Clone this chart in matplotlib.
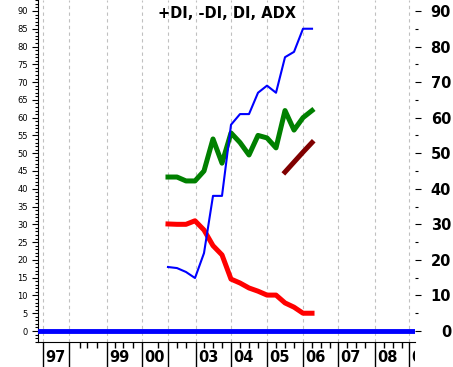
import numpy as np
import matplotlib
matplotlib.use("Agg")
import matplotlib.pyplot as plt
from matplotlib.transforms import Bbox, TransformedBbox, offset_copy

# quarterly points (index)
qtr = [0, 1, 2, 3, 4, 5, 6, 7, 8, 9, 10, 11, 12, 13, 14, 15, 16]
plus_di = [18.0, 17.7, 16.6, 14.9, 21.9, 38.0, 38.0, 58.0, 61.0, 61.0, 67.0, 69.0, 67.0, 77.0, 78.5, 85.0, 85.0]
minus_di = [30.1, 30.0, 30.0, 31.0, 28.4, 24.0, 21.4, 14.6, 13.5, 12.1, 11.2, 10.1, 10.1, 7.9, 6.7, 5.0, 5.0]
di = [43.3, 43.3, 42.2, 42.2, 45.0, 54.0, 47.2, 55.7, 53.0, 49.5, 55.0, 54.3, 51.5, 62.0, 56.5, 60.0, 62.0]
adx_x = [13, 14, 15, 16]
adx = [44.7, 47.5, 50.3, 53.0]

# year ticks (in quarter units) and their labels
year_pos = [-13.9, -11.0, -6.8, -2.9, 0.0, 3.1, 7.0, 11.0, 15.0, 18.9, 23.0, 26.8]
year_lbl = ['97', '', '99', '00', '', '03', '04', '05', '06', '07', '08', '09']
minor_pos = [-9.8, -9.0, -7.9, -5.9, -5.0, -3.9, -1.1, 1, 2, 4, 5, 6, 8, 9, 10,
             12, 13, 14, 16, 17, 18, 19.9, 20.9, 21.9, 24, 25, 26]

W, H = 453, 367
fig = plt.figure(figsize=(W / 100, H / 100), dpi=100)
ax = fig.add_axes([38 / W, 25 / H, (415 - 38) / W, 342 / H])
ax.set_xlim(-14.44, 27.44)
ax.set_ylim(-3.09, 93.08)

ax.spines['top'].set_visible(False)
ax.spines['right'].set_visible(False)

# x axis: tall year ticks, short quarter ticks, labels right of the tick
ax.set_xticks(year_pos)
ax.set_xticks(minor_pos, minor=True)
ax.set_xticklabels([])
ax.tick_params(axis='x', which='major', length=18, width=1, color='black')
ax.tick_params(axis='x', which='minor', length=4, width=1, color='black')
ax.grid(axis='x', which='major', color='#c0c0c0', linestyle=(0, (3, 3)), linewidth=0.8)

# last label is cut off at the plot's right edge
clip = TransformedBbox(Bbox([[0, 0], [415 / W, 1]]), fig.transFigure)
lbl_tr = offset_copy(ax.get_xaxis_transform(), fig=fig, x=2, y=-15, units='dots')
for p, s in zip(year_pos, year_lbl):
    if s:
        t = ax.text(p, 0, s, transform=lbl_tr, ha='left', va='center',
                    fontsize=10.5, fontweight='bold', clip_on=True)
        t.set_clip_box(clip)

# left y axis
ax.set_yticks(np.arange(0, 91, 5))
ax.set_yticks(np.arange(-3, 94, 1), minor=True)
ax.tick_params(axis='y', which='major', length=4.3, width=0.8, pad=3, labelsize=6)
ax.tick_params(axis='y', which='minor', length=2, width=0.8)

# right y axis
ax2 = ax.twinx()
ax2.set_ylim(ax.get_ylim())
for sp in ax2.spines.values():
    sp.set_visible(False)
ax2.set_yticks(np.arange(0, 91, 10))
ax2.set_yticks(np.arange(5, 91, 10), minor=True)
ax2.tick_params(axis='y', which='major', length=4, width=0.8, pad=22, labelsize=10.5)
ax2.tick_params(axis='y', which='minor', length=2, width=0.8)
for t in ax2.get_yticklabels():
    t.set_fontweight('bold')
    t.set_ha('right')

ax.axhline(0, color='#0000ff', linewidth=3.5, zorder=3)
ax.plot(qtr, di, color='#008000', linewidth=3.6, zorder=4)
ax.plot(qtr, minus_di, color='#ff0000', linewidth=3.6, zorder=4)
ax.plot(adx_x, adx, color='#800000', linewidth=3.6, zorder=4)
ax.plot(qtr, plus_di, color='#0000ff', linewidth=1.5, zorder=5)

ax.text(0.5, 1 - 14 / 342, '+DI, -DI, DI, ADX', transform=ax.transAxes,
        ha='center', va='center', fontsize=10.5, fontweight='bold')

fig.savefig('out.png', dpi=100)
